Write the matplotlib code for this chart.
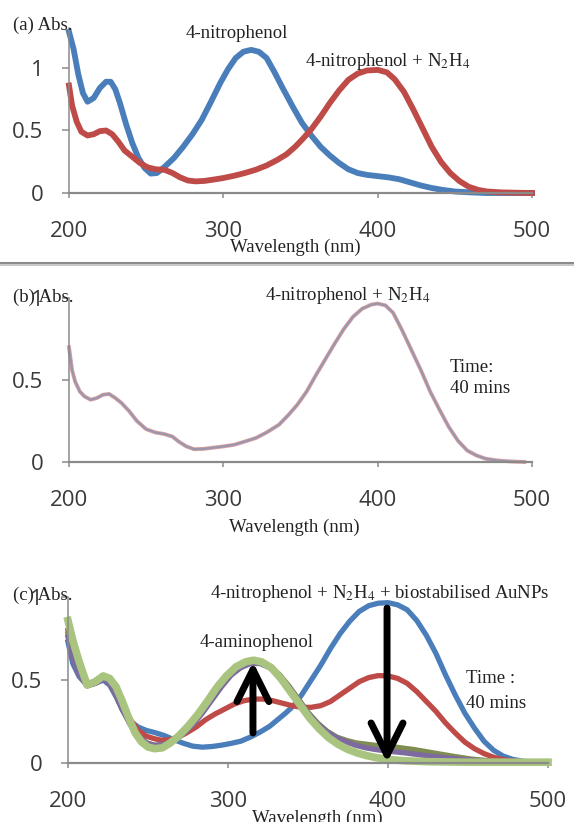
import matplotlib
matplotlib.use("Agg")
import matplotlib.pyplot as plt
from matplotlib.lines import Line2D

plt.rcParams['mathtext.fontset'] = 'stix'
plt.rcParams['lines.solid_joinstyle'] = 'round'

# ---- data ----
# (a) 4-nitrophenol
a_wl_np = [200, 203, 206, 209, 212, 216, 220, 224, 227, 230, 233, 237, 241, 245, 249, 253, 257,
           262, 268, 274, 280, 286, 292, 298, 303, 308, 313, 318, 323, 328, 333, 338, 345, 351,
           357, 363, 369, 375, 381, 387, 393, 400, 407, 414, 421, 428, 435, 442, 450, 460, 470, 500]
a_abs_np = [1.29, 1.15, 0.95, 0.80, 0.73, 0.76, 0.84, 0.89, 0.89, 0.83, 0.72, 0.55, 0.40, 0.28, 0.20,
            0.155, 0.16, 0.21, 0.28, 0.37, 0.47, 0.585, 0.73, 0.88, 0.99, 1.08, 1.13, 1.145, 1.13,
            1.08, 0.97, 0.85, 0.69, 0.56, 0.46, 0.37, 0.30, 0.24, 0.19, 0.16, 0.145, 0.135, 0.125,
            0.11, 0.085, 0.06, 0.04, 0.025, 0.012, 0.005, 0.0, 0.0]
# (a) 4-nitrophenol + N2H4
a_wl_mix = [200, 202, 205, 208, 212, 216, 220, 224, 228, 232, 236, 241, 246, 251, 256, 262, 267,
            272, 277, 282, 288, 294, 300, 307, 314, 321, 328, 335, 341, 347, 352, 357, 363, 369,
            375, 381, 387, 393, 400, 406, 411, 417, 423, 429, 435, 441, 447, 453, 459, 465, 471,
            480, 490, 500]
a_abs_mix = [0.86, 0.70, 0.57, 0.49, 0.46, 0.47, 0.495, 0.50, 0.47, 0.41, 0.34, 0.29, 0.24, 0.205,
             0.19, 0.185, 0.16, 0.125, 0.10, 0.093, 0.097, 0.108, 0.12, 0.138, 0.16, 0.186, 0.22,
             0.265, 0.31, 0.375, 0.44, 0.51, 0.61, 0.72, 0.82, 0.905, 0.955, 0.98, 0.985, 0.965,
             0.91, 0.81, 0.67, 0.52, 0.37, 0.25, 0.16, 0.095, 0.05, 0.025, 0.012, 0.005, 0.002, 0.0]

# (b) 4-nitrophenol + N2H4 over 40 min
b_wl = [200, 202, 204, 207, 210, 214, 218, 222, 226, 230, 234, 239, 244, 250, 256, 262, 267, 271,
        276, 281, 287, 294, 300, 307, 314, 321, 328, 336, 342, 348, 354, 360, 366, 372, 378, 384,
        390, 396, 400, 405, 410, 416, 422, 428, 434, 440, 446, 452, 458, 464, 470, 477, 485, 495]
b_abs = [0.70, 0.56, 0.49, 0.43, 0.40, 0.38, 0.39, 0.41, 0.415, 0.39, 0.36, 0.31, 0.25, 0.20, 0.18,
         0.17, 0.155, 0.125, 0.095, 0.078, 0.08, 0.088, 0.095, 0.105, 0.125, 0.146, 0.18, 0.227,
         0.285, 0.35, 0.43, 0.53, 0.625, 0.72, 0.81, 0.885, 0.935, 0.96, 0.966, 0.955, 0.91, 0.80,
         0.68, 0.56, 0.43, 0.32, 0.215, 0.13, 0.07, 0.04, 0.02, 0.01, 0.004, 0.0]

# (c) with biostabilised AuNPs
c_wl_t0 = [200, 203, 207, 212, 217, 222, 226, 230, 234, 239, 244, 249, 254, 260, 266, 272, 278,
           284, 290, 296, 302, 308, 314, 320, 326, 331, 336, 341, 346, 352, 358, 364, 370, 376,
           382, 388, 394, 400, 406, 412, 418, 424, 430, 436, 442, 448, 454, 460, 466, 472, 478,
           485, 492, 500]
c_abs_t0 = [0.73, 0.60, 0.52, 0.47, 0.48, 0.50, 0.47, 0.40, 0.32, 0.25, 0.215, 0.195, 0.183, 0.165,
            0.14, 0.118, 0.10, 0.094, 0.098, 0.106, 0.117, 0.13, 0.155, 0.185, 0.22, 0.26, 0.30,
            0.345, 0.41, 0.50, 0.59, 0.69, 0.78, 0.855, 0.915, 0.95, 0.965, 0.968, 0.955, 0.925,
            0.86, 0.77, 0.66, 0.53, 0.41, 0.30, 0.21, 0.13, 0.075, 0.04, 0.02, 0.008, 0.003, 0.0]
c_wl_t1 = [200, 203, 207, 212, 217, 222, 226, 230, 234, 239, 244, 249, 254, 259, 264, 269, 274,
           280, 286, 292, 298, 304, 310, 316, 322, 328, 334, 340, 346, 352, 358, 364, 370, 376,
           382, 388, 394, 400, 406, 412, 418, 424, 430, 436, 442, 448, 454, 460, 466, 472, 480,
           490, 500]
c_abs_t1 = [0.80, 0.65, 0.54, 0.47, 0.49, 0.51, 0.48, 0.41, 0.33, 0.26, 0.195, 0.16, 0.145, 0.135,
            0.14, 0.155, 0.18, 0.215, 0.26, 0.295, 0.325, 0.355, 0.375, 0.385, 0.385, 0.375, 0.36,
            0.345, 0.335, 0.335, 0.345, 0.37, 0.41, 0.45, 0.49, 0.515, 0.527, 0.525, 0.51, 0.48,
            0.43, 0.37, 0.31, 0.24, 0.18, 0.125, 0.085, 0.055, 0.033, 0.018, 0.008, 0.003, 0.0]
c_wl_t2 = [200, 203, 207, 212, 217, 222, 226, 230, 234, 239, 244, 249, 254, 260, 266, 272, 278,
           284, 290, 296, 302, 308, 314, 320, 326, 332, 338, 344, 350, 356, 362, 368, 374, 380,
           392, 404, 416, 428, 440, 452, 465, 480, 500]
c_abs_t2 = [0.78, 0.64, 0.53, 0.465, 0.48, 0.51, 0.48, 0.41, 0.32, 0.23, 0.16, 0.12, 0.105, 0.11,
            0.135, 0.175, 0.235, 0.305, 0.385, 0.465, 0.535, 0.58, 0.605, 0.605, 0.58, 0.535, 0.465,
            0.385, 0.305, 0.24, 0.19, 0.155, 0.135, 0.12, 0.105, 0.095, 0.08, 0.06, 0.04, 0.022,
            0.01, 0.004, 0.0]
c_wl_t3 = [200, 203, 207, 212, 217, 222, 226, 230, 234, 239, 244, 249, 254, 260, 266, 272, 278,
           284, 290, 296, 302, 308, 314, 320, 326, 332, 338, 344, 350, 356, 362, 368, 374, 380,
           386, 392, 398, 404, 410, 418, 426, 436, 448, 460, 475, 500]
c_abs_t3 = [0.76, 0.63, 0.53, 0.465, 0.48, 0.505, 0.48, 0.41, 0.32, 0.23, 0.16, 0.12, 0.105, 0.11,
            0.135, 0.175, 0.23, 0.30, 0.38, 0.46, 0.53, 0.575, 0.60, 0.60, 0.575, 0.53, 0.46, 0.38,
            0.30, 0.235, 0.185, 0.15, 0.125, 0.105, 0.09, 0.08, 0.072, 0.066, 0.06, 0.05, 0.04, 0.03,
            0.018, 0.01, 0.004, 0.0]
c_wl_end = [200, 203, 207, 212, 217, 222, 226, 230, 234, 238, 242, 246, 250, 254, 259, 264, 269,
            275, 281, 287, 293, 299, 305, 311, 316, 321, 327, 333, 339, 345, 351, 357, 363, 369,
            375, 381, 387, 393, 400, 410, 425, 450, 500]
c_abs_end = [0.86, 0.74, 0.61, 0.47, 0.49, 0.525, 0.51, 0.46, 0.37, 0.27, 0.18, 0.125, 0.095,
             0.085, 0.09, 0.12, 0.16, 0.22, 0.29, 0.37, 0.455, 0.525, 0.58, 0.61, 0.62, 0.61, 0.575,
             0.51, 0.43, 0.35, 0.27, 0.205, 0.15, 0.11, 0.08, 0.058, 0.042, 0.03, 0.02, 0.012, 0.006,
             0.003, 0.003]

xticks = [200, 300, 400, 500]
yticks = [0, 0.5, 1]
ytick_labels = ['0', '0.5', '1']

BLUE = '#4a7ebb'
RED = '#be4b48'
GREEN = '#a9c47f'
PURPLE = '#7d6aa0'
OLIVE = '#7f8c52'

W, H = 574, 822
fig = plt.figure(figsize=(W / 100, H / 100), dpi=100)


def box(left, right, y0, ypx_per_unit, ymax):
    return [left / W, (H - y0) / H, (right - left) / W, ypx_per_unit * ymax / H]


def style(ax, ymax):
    ax.set_xlim(200, 500)
    ax.set_ylim(0, ymax)
    ax.set_xticks(xticks)
    ax.set_yticks(yticks)
    ax.set_yticklabels(ytick_labels)
    ax.patch.set_alpha(0)
    for s in ['top', 'right']:
        ax.spines[s].set_visible(False)
    ax.spines['left'].set_color('#8a8a8a')
    ax.spines['left'].set_linewidth(1.1)
    ax.spines['bottom'].set_color('#8a8a8a')
    ax.spines['bottom'].set_linewidth(1.6)
    ax.tick_params(axis='both', color='#8a8a8a', labelcolor='#3a3a3a', width=1.1)
    ax.tick_params(axis='y', length=5, pad=13.5)
    ax.tick_params(axis='x', length=3.5, pad=17)
    for lab in ax.get_xticklabels() + ax.get_yticklabels():
        lab.set_fontfamily('Open Sans')
        lab.set_fontsize(16)


def label(x, y, s, ha='left', size=13.5):
    fig.text(x / W, 1 - y / H, s, ha=ha, va='center', family='Liberation Serif',
             fontsize=size, color='#222222')


# ---- panel (a) ----
ax1 = fig.add_axes(box(69, 532, 193, 125, 1.32))
style(ax1, 1.32)
ax1.plot(a_wl_np, a_abs_np, color=BLUE, lw=4.2, clip_on=False)
ax1.plot(a_wl_mix, a_abs_mix, color=RED, lw=4.2, clip_on=False)
label(13, 25, '(a) Abs.')
label(237, 33, '4-nitrophenol', ha='center')
label(305, 62, r'4-nitrophenol + N$_2$H$_4$')
label(295, 247, 'Wavelength (nm)', ha='center')

# separator
fig.add_artist(Line2D([0, 1], [1 - 263 / H] * 2, transform=fig.transFigure, color='#8a8a8a', lw=2.2))
fig.add_artist(Line2D([0, 1], [1 - 265.5 / H] * 2, transform=fig.transFigure, color='#c8c8c8', lw=1.5))

# ---- panel (b) ----
ax2 = fig.add_axes(box(69, 532, 462, 164, 1.0))
style(ax2, 1.0)
ax2.plot(b_wl, b_abs, color='#d9a0a0', lw=2.8, clip_on=False)
ax2.plot(b_wl, b_abs, color='#9c96ad', lw=1.6, clip_on=False)
label(13, 297, '(b) Abs.')
label(265, 295, r'4-nitrophenol + N$_2$H$_4$')
label(450, 367, 'Time:')
label(450, 388, '40 mins')
label(294, 527, 'Wavelength (nm)', ha='center')

# ---- panel (c) ----
ax3 = fig.add_axes(box(68, 548, 762.7, 165.3, 1.0))
style(ax3, 1.0)
ax3.plot(c_wl_t0, c_abs_t0, color=BLUE, lw=3.8, clip_on=False)
ax3.plot(c_wl_t1, c_abs_t1, color=RED, lw=3.8, clip_on=False)
ax3.plot(c_wl_t2, c_abs_t2, color=OLIVE, lw=3.8, clip_on=False)
ax3.plot(c_wl_t3, c_abs_t3, color=PURPLE, lw=3.8, clip_on=False)
ax3.plot(c_wl_end, c_abs_end, color=GREEN, lw=5.5, clip_on=False)
arrow = dict(arrowstyle='->,head_length=2.3,head_width=1.15', lw=5, color='black',
             shrinkA=0, shrinkB=0)
ax3.annotate('', xy=(315.6, 0.61), xytext=(315.6, 0.18), arrowprops=arrow)
ax3.annotate('', xy=(399.4, 0.0), xytext=(399.4, 0.935), arrowprops=arrow)
label(13, 595, '(c) Abs.')
label(380, 593, r'4-nitrophenol + N$_2$H$_4$ + biostabilised AuNPs', ha='center')
label(257, 642, '4-aminophenol', ha='center')
label(466, 678, 'Time :')
label(466, 703, '40 mins')
label(317, 818, 'Wavelength (nm)', ha='center')

fig.savefig('out.png', dpi=100)
